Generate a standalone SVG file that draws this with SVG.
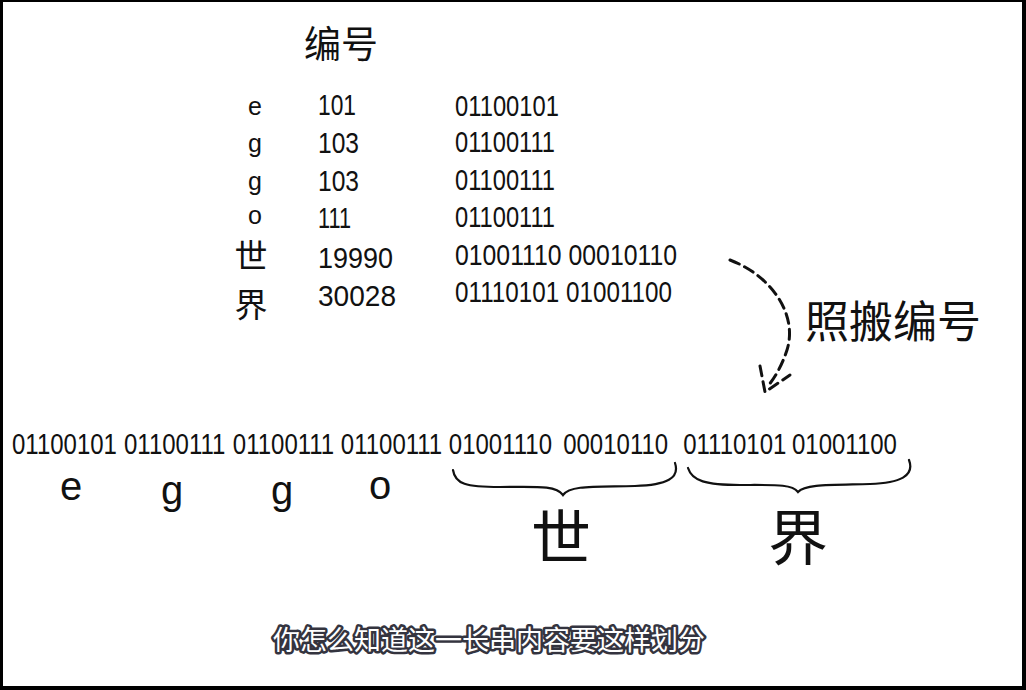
<svg xmlns="http://www.w3.org/2000/svg" width="1026" height="690" viewBox="0 0 1026 690">
<defs>
<style>
.num{font-family:"Liberation Sans",Arial,sans-serif;font-size:30px;fill:#111;}
.lat{font-family:"Liberation Sans",Arial,sans-serif;fill:#111;text-anchor:middle;}
.cjk{font-family:"Noto Sans CJK SC",sans-serif;fill:#111;text-anchor:middle;}
.brace{fill:none;stroke:#111;stroke-width:2.2;stroke-linecap:round;}
.dash{fill:none;stroke:#111;stroke-width:3;stroke-dasharray:10 6;stroke-linecap:round;}
.sub{font-family:"Noto Sans CJK SC",sans-serif;font-size:27px;fill:#fff;stroke:#34343f;stroke-width:5;paint-order:stroke;stroke-linejoin:round;text-anchor:middle;}
</style>
</defs>
<rect x="0" y="0" width="1026" height="690" fill="#000"/>
<rect x="3" y="2" width="1019" height="684" fill="#fff"/>

<g id="title"><text class="cjk" x="341" y="58" font-size="37">编号</text></g>

<g id="table">
<g id="row-e">
<text class="lat" x="255" y="115" font-size="25">e</text>
<text class="num" x="318" y="115" textLength="38" lengthAdjust="spacingAndGlyphs">101</text>
<text class="num" x="455" y="116" textLength="104" lengthAdjust="spacingAndGlyphs">01100101</text>
</g>
<g id="row-g1">
<text class="lat" x="255" y="152" font-size="25">g</text>
<text class="num" x="318" y="153" textLength="41" lengthAdjust="spacingAndGlyphs">103</text>
<text class="num" x="455" y="152" textLength="100" lengthAdjust="spacingAndGlyphs">01100111</text>
</g>
<g id="row-g2">
<text class="lat" x="255" y="190" font-size="25">g</text>
<text class="num" x="318" y="191" textLength="41" lengthAdjust="spacingAndGlyphs">103</text>
<text class="num" x="455" y="190" textLength="100" lengthAdjust="spacingAndGlyphs">01100111</text>
</g>
<g id="row-o">
<text class="lat" x="255" y="224" font-size="25">o</text>
<text class="num" x="318" y="228" textLength="33" lengthAdjust="spacingAndGlyphs">111</text>
<text class="num" x="455" y="227" textLength="100" lengthAdjust="spacingAndGlyphs">01100111</text>
</g>
<g id="row-shi">
<text class="cjk" x="251" y="268" font-size="33">世</text>
<text class="num" x="318" y="268" textLength="75" lengthAdjust="spacingAndGlyphs">19990</text>
<text class="num" x="455" y="265" textLength="222" lengthAdjust="spacingAndGlyphs">01001110 00010110</text>
</g>
<g id="row-jie">
<text class="cjk" x="251" y="317" font-size="33">界</text>
<text class="num" x="318" y="306" textLength="78" lengthAdjust="spacingAndGlyphs">30028</text>
<text class="num" x="455" y="302" textLength="217" lengthAdjust="spacingAndGlyphs">01110101 01001100</text>
</g>
</g>

<g id="label-copy"><text class="cjk" x="893" y="338" font-size="44">照搬编号</text></g>

<g id="stream">
<text class="num" transform="scale(0.8,1)" y="454"><tspan x="15">01100101</tspan><tspan x="155">01100111</tspan><tspan x="291">01100111</tspan><tspan x="426">01100111</tspan><tspan x="561">01001110</tspan><tspan x="704">00010110</tspan><tspan x="854">01110101</tspan><tspan x="990">01001100</tspan></text>
</g>

<g id="chars">
<text class="lat" x="71" y="500" font-size="40">e</text>
<text class="lat" x="172" y="504" font-size="40">g</text>
<text class="lat" x="282" y="504" font-size="40">g</text>
<text class="lat" x="380" y="499" font-size="40">o</text>
<text class="cjk" x="561" y="560" font-size="60">世</text>
<text class="cjk" x="798" y="560" font-size="60">界</text>
</g>

<g id="connectors">
<path class="brace" d="M453,470 C455,484 466,487 500,487 C535,487 556,485 563,495 C570,485 595,487 635,486 C667,485 680,478 675,463"/>
<path class="brace" d="M688,468 C692,481 706,485 740,485 C775,485 792,484 798,492 C805,484 830,485 870,484 C900,483 915,476 909,460"/>
<path class="dash" d="M730,260 C772,276 798,315 787,350 C782,365 776,376 768,386"/>
<path class="dash" d="M760,366 L765,392 L790,375" stroke-dasharray="9 5"/>
</g>

<g id="subtitle"><text class="sub" x="489" y="650">你怎么知道这一长串内容要这样划分</text></g>
</svg>
